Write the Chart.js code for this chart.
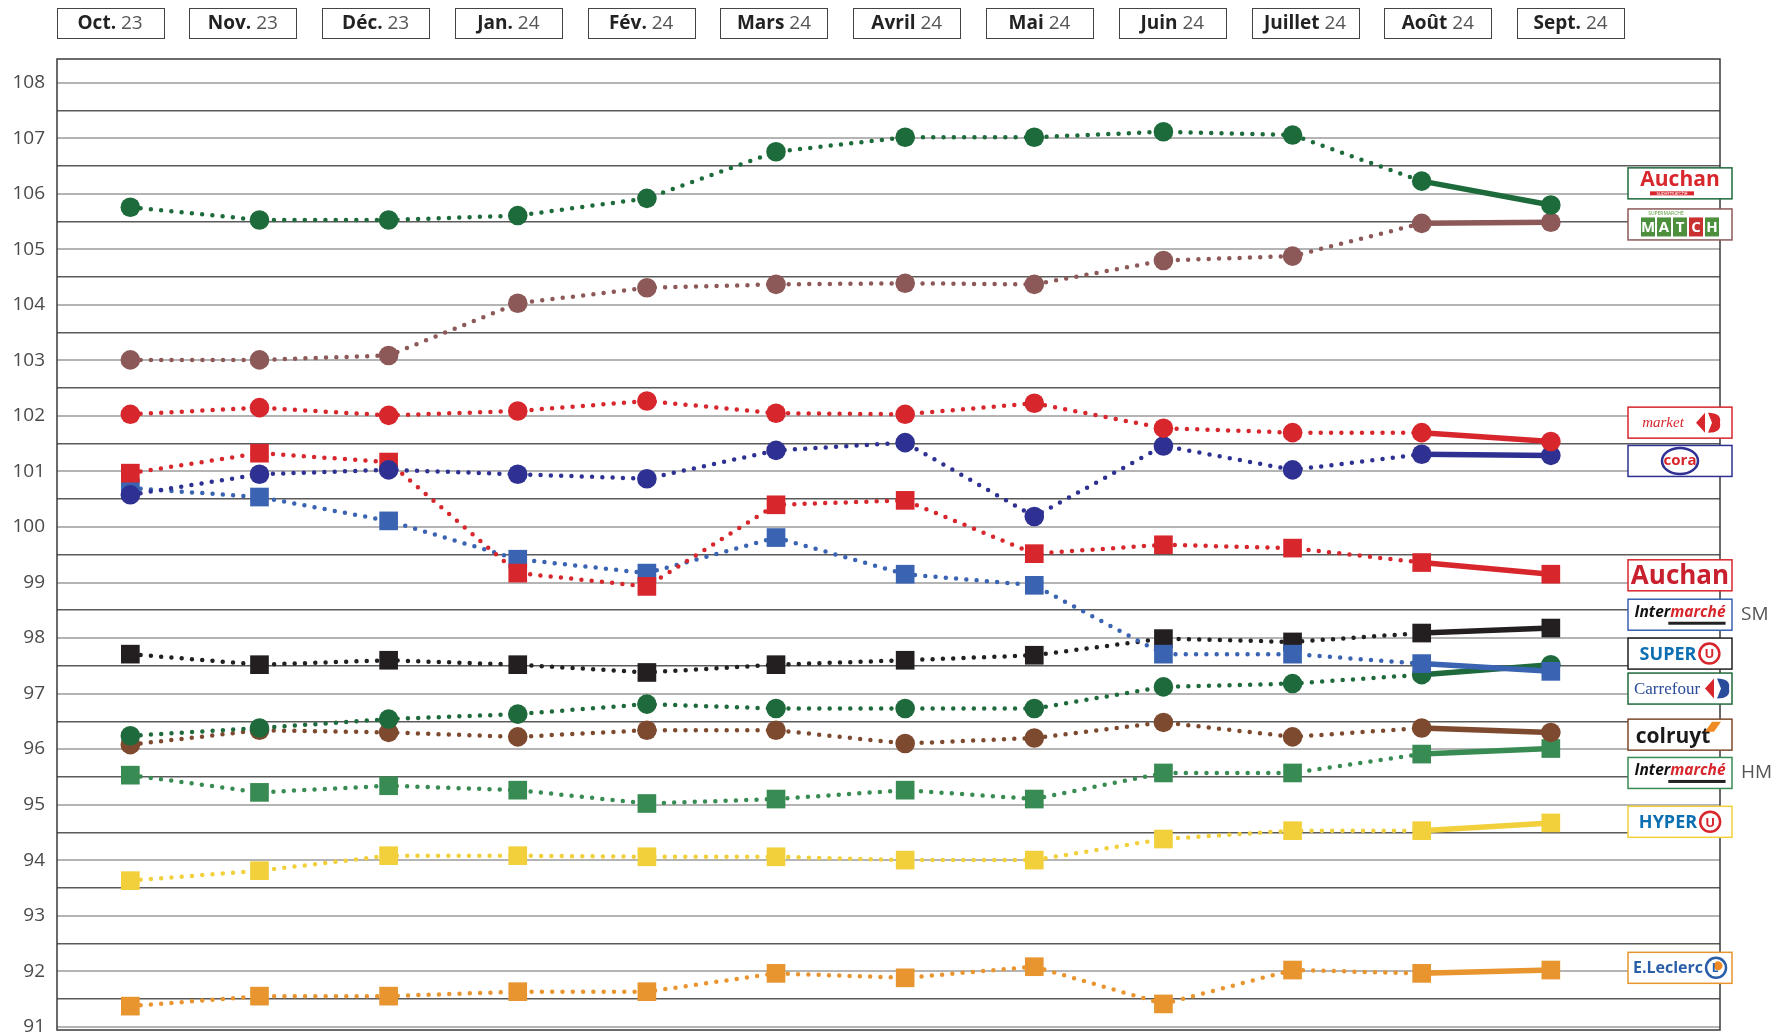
<!DOCTYPE html>
<html><head><meta charset="utf-8">
<script src="https://cdn.jsdelivr.net/npm/chart.js@4/dist/chart.umd.min.js"></script>
<style>html,body{margin:0;padding:0;background:#fff;overflow:hidden}</style>
</head><body>
<canvas id="c" width="1775" height="1035"></canvas>
<script>
// ---- data ----
const monthNames = ['Oct.','Nov.','Déc.','Jan.','Fév.','Mars','Avril','Mai','Juin','Juillet','Août','Sept.'];
const monthYears = ['23','23','23','24','24','24','24','24','24','24','24','24'];
const yTickValues = [91,92,93,94,95,96,97,98,99,100,101,102,103,104,105,106,107,108];

const auchanSuper    = [105.76,105.53,105.53,105.61,105.92,106.76,107.02,107.02,107.12,107.06,106.23,105.80];
const match          = [103.01,103.01,103.09,104.03,104.31,104.37,104.39,104.37,104.80,104.88,105.47,105.49];
const carrefourMarket= [102.03,102.15,102.01,102.09,102.27,102.05,102.03,102.23,101.78,101.70,101.70,101.54];
const cora           = [100.58,100.95,101.03,100.95,100.87,101.38,101.52,100.19,101.46,101.03,101.31,101.29];
const auchan         = [100.97,101.33,101.17,99.17,98.93,100.40,100.48,99.52,99.68,99.62,99.36,99.15];
const carrefour      = [100.70,100.54,100.11,99.42,99.17,99.81,99.15,98.95,97.71,97.71,97.54,97.40];
const intermarcheSM  = [97.71,97.52,97.60,97.52,97.38,97.52,97.60,97.69,97.99,97.93,98.09,98.18];
const superU         = [96.24,96.38,96.54,96.63,96.81,96.73,96.73,96.73,97.12,97.18,97.34,97.52];
const colruyt        = [96.08,96.34,96.30,96.22,96.34,96.34,96.10,96.20,96.48,96.22,96.38,96.30];
const intermarcheHM  = [95.53,95.22,95.34,95.26,95.02,95.10,95.26,95.10,95.57,95.57,95.91,96.01];
const hyperU         = [93.63,93.81,94.08,94.08,94.06,94.06,94.00,94.00,94.38,94.53,94.53,94.67];
const leclerc        = [91.37,91.55,91.55,91.63,91.63,91.96,91.88,92.08,91.41,92.02,91.96,92.02];

const seriesNames = ['Auchan supermarché','Match','Carrefour Market','Cora','Auchan','Carrefour','Intermarché SM','Super U','Colruyt','Intermarché HM','Hyper U','E.Leclerc'];
const seriesValues = [auchanSuper,match,carrefourMarket,cora,auchan,carrefour,intermarcheSM,superU,colruyt,intermarcheHM,hyperU,leclerc];
const seriesColors = ['#1d6a3b','#8c5858','#d8262d','#2e3192','#d8262d','#3a63b1','#231f20','#1f6a3c','#7e4a2f','#388b52','#f2d03c','#e8952f'];
const seriesMarkers = ['circle','circle','circle','circle','rect','rect','rect','circle','circle','rect','rect','rect'];
// legend logo anchor values (y position in index units) and suffix text
const legendAnchor = [106.19,105.45,101.88,101.19,99.13,98.42,97.72,97.09,96.26,95.57,94.69,92.06];
const legendSuffix = ['','','','','','SM','','','','HM','',''];
const legendBrand  = ['Auchan','MATCH','market','cora','Auchan','Intermarché','SUPER U','Carrefour','colruyt','Intermarché','HYPER U','E.Leclerc'];

// ---- chart ----
const LAST = monthNames.length - 2;
const datasets = seriesValues.map((vals, k) => ({
  label: seriesNames[k],
  data: vals.map((v, i) => ({x: i, y: v})),
  borderColor: seriesColors[k],
  backgroundColor: seriesColors[k],
  pointStyle: seriesMarkers[k],
  pointRadius: seriesMarkers[k] === 'rect' ? 13.2 : 9.8,
  pointBorderWidth: 0,
  borderWidth: 4.5,
  borderCapStyle: 'round',
  tension: 0,
  segment: {
    borderDash: ctx => ctx.p0DataIndex === LAST ? [] : [0, 10.3],
    borderWidth: ctx => ctx.p0DataIndex === LAST ? 5.5 : 4.5
  }
}));

const SANS = '"Open Sans","Noto Sans",sans-serif';

function drawCarrefourMark(ctx, x, y, red, blue) {
  ctx.save();
  ctx.fillStyle = red;
  ctx.beginPath(); ctx.moveTo(x - 3, y - 10); ctx.lineTo(x - 12, y); ctx.lineTo(x - 3, y + 10); ctx.closePath(); ctx.fill();
  ctx.fillStyle = blue;
  ctx.beginPath(); ctx.moveTo(x, y - 10); ctx.quadraticCurveTo(x + 14, y - 10, x + 12, y); ctx.quadraticCurveTo(x + 14, y + 10, x, y + 10); ctx.lineTo(x + 4, y); ctx.closePath(); ctx.fill();
  ctx.restore();
}

function drawLogo(ctx, k, cx, cy) {
  const b = legendBrand[k];
  ctx.save();
  ctx.textBaseline = 'middle';
  ctx.textAlign = 'center';
  if (k === 0) {
    ctx.font = 'bold 21px ' + SANS; ctx.fillStyle = '#d8262d';
    ctx.fillText(b, cx, cy - 3);
    ctx.fillRect(cx - 30, cy + 8, 44, 4);
    ctx.font = '5px ' + SANS; ctx.fillStyle = '#fff';
    ctx.fillText('supermarché', cx - 8, cy + 10);
  } else if (k === 1) {
    const letters = b.split('');
    const lw = 14, gap = 2, start = cx - (letters.length * (lw + gap) - gap) / 2;
    ctx.font = '5px ' + SANS; ctx.fillStyle = '#5a9a3a';
    ctx.fillText('SUPERMARCHÉ', cx - 14, cy - 11);
    letters.forEach((l, i) => {
      const x = start + i * (lw + gap);
      ctx.fillStyle = l === 'C' ? '#c8312f' : '#4c8f3c';
      ctx.fillRect(x, cy - 7, lw, 19);
      ctx.fillStyle = '#fff'; ctx.font = 'bold 15px ' + SANS;
      ctx.fillText(l, x + lw / 2, cy + 3);
    });
  } else if (k === 2) {
    ctx.font = 'italic 15px "Liberation Serif",serif'; ctx.fillStyle = '#d8262d';
    ctx.fillText(b, cx - 17, cy);
    drawCarrefourMark(ctx, cx + 28, cy, '#d8262d', '#d8262d');
  } else if (k === 3) {
    ctx.strokeStyle = '#2e3192'; ctx.lineWidth = 2.5;
    ctx.beginPath(); ctx.ellipse(cx, cy, 18, 13, 0, 0, Math.PI * 2); ctx.stroke();
    ctx.font = 'bold 15px ' + SANS; ctx.fillStyle = '#d8262d';
    ctx.fillText(b, cx, cy);
  } else if (k === 4) {
    ctx.font = 'bold 26px ' + SANS; ctx.fillStyle = '#c8202e';
    ctx.fillText(b, cx, cy + 1);
  } else if (k === 5 || k === 9) {
    ctx.textAlign = 'left';
    ctx.font = 'bold italic 15.5px ' + SANS;
    const w1 = ctx.measureText('Inter').width;
    const w2 = ctx.measureText('marché').width;
    const x0 = cx - (w1 + w2) / 2;
    ctx.fillStyle = '#111'; ctx.fillText('Inter', x0, cy - 2);
    ctx.fillStyle = '#d8262d'; ctx.fillText('marché', x0 + w1, cy - 2);
    ctx.fillStyle = '#222'; ctx.fillRect(x0 + w1 - 2, cy + 7, w2 + 2, 3);
  } else if (k === 6 || k === 10) {
    const word = b.split(' ')[0];
    ctx.textAlign = 'left';
    ctx.font = 'bold 18px ' + SANS;
    const ww = ctx.measureText(word).width;
    const x0 = cx - (ww + 24) / 2;
    ctx.fillStyle = '#0c6fb2'; ctx.fillText(word, x0, cy + 1);
    const ux = x0 + ww + 13;
    ctx.strokeStyle = '#d8262d'; ctx.lineWidth = 2.5;
    ctx.beginPath(); ctx.arc(ux, cy, 10, 0, Math.PI * 2); ctx.stroke();
    ctx.textAlign = 'center'; ctx.font = 'bold 13px ' + SANS; ctx.fillStyle = '#d8262d';
    ctx.fillText('U', ux, cy + 1);
  } else if (k === 7) {
    ctx.font = '17px "Liberation Serif",serif'; ctx.fillStyle = '#2a4a9a';
    ctx.fillText(b, cx - 13, cy + 1);
    drawCarrefourMark(ctx, cx + 37, cy, '#d8262d', '#2a4a9a');
  } else if (k === 8) {
    ctx.font = 'bold 21px ' + SANS; ctx.fillStyle = '#1a1a1a';
    ctx.fillText(b, cx - 7, cy + 2);
    ctx.fillStyle = '#f08a24';
    ctx.beginPath(); ctx.moveTo(cx + 32, cy - 13); ctx.lineTo(cx + 41, cy - 13); ctx.lineTo(cx + 34, cy - 3); ctx.lineTo(cx + 25, cy - 3); ctx.closePath(); ctx.fill();
  } else if (k === 11) {
    ctx.textAlign = 'left';
    ctx.font = 'bold 16px ' + SANS;
    const ww = ctx.measureText(b).width;
    const x0 = cx - (ww + 24) / 2;
    ctx.fillStyle = '#2a5ea8'; ctx.fillText(b, x0, cy + 1);
    const lx = x0 + ww + 13;
    ctx.strokeStyle = '#2a5ea8'; ctx.lineWidth = 2.5;
    ctx.beginPath(); ctx.arc(lx, cy, 10, 0, Math.PI * 2); ctx.stroke();
    ctx.fillStyle = '#f08a24'; ctx.beginPath(); ctx.arc(lx + 2, cy - 2, 4.5, 0, Math.PI * 2); ctx.fill();
    ctx.textAlign = 'center'; ctx.font = 'bold 12px ' + SANS; ctx.fillStyle = '#2a5ea8';
    ctx.fillText('L', lx - 1, cy + 1);
  }
  ctx.restore();
}

const decoPlugin = {
  id: 'deco',
  beforeDatasetsDraw(chart) {
    const {ctx, chartArea: a} = chart;
    ctx.save();
    ctx.strokeStyle = '#3a3a3a'; ctx.lineWidth = 1.5;
    ctx.strokeRect(a.left, a.top, a.right - a.left, a.bottom - a.top);
    ctx.restore();
  },
  afterDatasetsDraw(chart) {
    const {ctx, chartArea: a, scales} = chart;
    const xt = scales.xTop, y = scales.y;
    ctx.save();
    // month boxes
    monthNames.forEach((m, i) => {
      const cx = xt.getPixelForValue(i);
      const bw = 107, bh = 30, top = 8;
      ctx.fillStyle = '#fff';
      ctx.fillRect(cx - bw / 2, top, bw, bh);
      ctx.strokeStyle = '#444'; ctx.lineWidth = 1;
      ctx.strokeRect(Math.round(cx - bw / 2) + 0.5, top + 0.5, bw, bh);
      ctx.textBaseline = 'middle'; ctx.textAlign = 'left';
      ctx.font = 'bold 19px ' + SANS;
      const w1 = ctx.measureText(m).width;
      ctx.font = '19px ' + SANS;
      const w2 = ctx.measureText(' ' + monthYears[i]).width;
      const x0 = cx - (w1 + w2) / 2;
      ctx.font = 'bold 19px ' + SANS; ctx.fillStyle = '#222';
      ctx.fillText(m, x0, top + bh / 2 + 1);
      ctx.font = '19px ' + SANS; ctx.fillStyle = '#555';
      ctx.fillText(' ' + monthYears[i], x0 + w1, top + bh / 2 + 1);
    });
    // legend logos
    legendBrand.forEach((b, k) => {
      const cy = y.getPixelForValue(legendAnchor[k]);
      const bw = 104, bh = 31;
      const left = a.right - 92;
      ctx.fillStyle = '#fff';
      ctx.fillRect(left, cy - bh / 2, bw, bh);
      ctx.strokeStyle = seriesColors[k]; ctx.lineWidth = 1.5;
      ctx.strokeRect(left, cy - bh / 2, bw, bh);
      drawLogo(ctx, k, left + bw / 2, cy);
      if (legendSuffix[k]) {
        ctx.font = '19px ' + SANS; ctx.fillStyle = '#555';
        ctx.textAlign = 'left'; ctx.textBaseline = 'middle';
        ctx.fillText(legendSuffix[k], left + bw + 9, cy);
      }
    });
    ctx.restore();
  }
};

new Chart(document.getElementById('c'), {
  type: 'line',
  data: { datasets },
  plugins: [decoPlugin],
  options: {
    responsive: false,
    animation: false,
    devicePixelRatio: 1,
    layout: { autoPadding: false, padding: { top: 59, right: 55, bottom: 5, left: 0 } },
    plugins: { legend: { display: false }, tooltip: { enabled: false } },
    scales: {
      x: { type: 'linear', min: -0.568, max: 12.31, display: false },
      xTop: { type: 'linear', axis: 'x', position: 'top', min: -0.40, max: 12.125, display: false },
      y: {
        type: 'linear', min: 90.94, max: 108.43,
        afterBuildTicks: s => {
          const t = [];
          yTickValues.forEach(v => { t.push({value: v}); if (v < 108) t.push({value: v + 0.5}); });
          s.ticks = t;
        },
        afterFit: s => { s.width = 57; s.paddingTop = 0; s.paddingBottom = 0; },
        border: { display: false },
        grid: {
          drawTicks: false,
          color: c => Number.isInteger(c.tick.value) ? '#b4b4b4' : '#5a5a5a',
          lineWidth: c => Number.isInteger(c.tick.value) ? 2 : 1.6
        },
        ticks: {
          padding: 12,
          color: '#4a4a4a',
          font: { family: SANS, size: 19 },
          callback: v => Number.isInteger(v) ? String(v) : ''
        }
      }
    }
  }
});
</script>
</body></html>
